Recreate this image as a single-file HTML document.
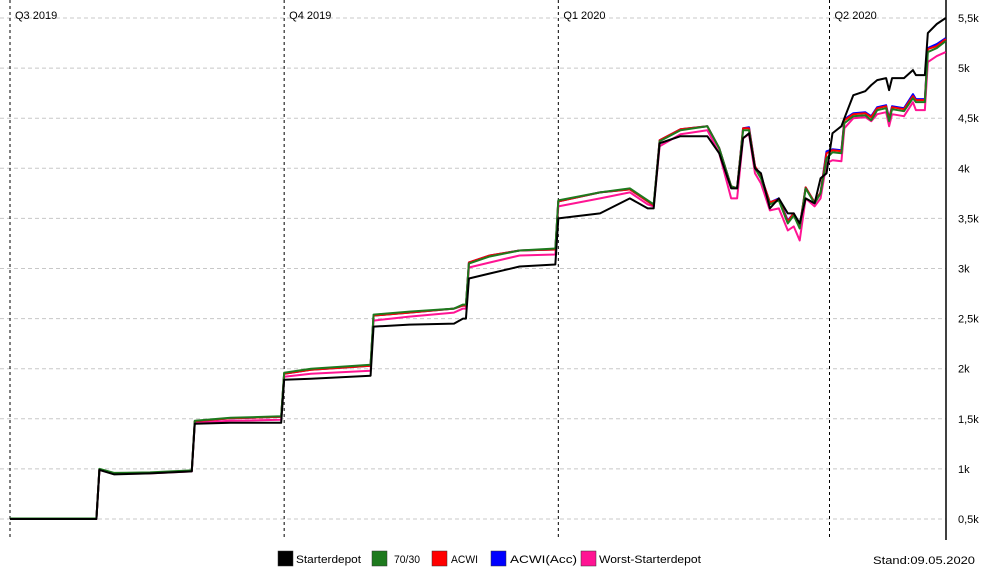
<!DOCTYPE html>
<html><head><meta charset="utf-8"><style>
body{margin:0;background:#fff;width:983px;height:571px;overflow:hidden;font-family:"Liberation Sans",sans-serif}
svg text{font-family:"Liberation Sans",sans-serif;font-size:11px;fill:#000}
</style></head><body>
<svg id="chart" width="983" height="571" xmlns="http://www.w3.org/2000/svg"></svg>
<script>
const days=[0,29,30,35,47,61,62,74,91,92,101,121,122,134,149,152,153,154,161,171,183,184,198,208,214,216,218,225,234,238,242,244,246,248,250,252,255,258,261,263,265,267,270,272,274,276,279,280,283,287,289,291,294,295,296,300,303,304,307,308,311,314];
const starterdepot=[500,500,990,945,955,975,1450,1460,1460,1890,1900,1930,2420,2440,2450,2500,2500,2900,2950,3020,3040,3500,3550,3700,3600,3600,4250,4320,4320,4150,3800,3800,4300,4350,4000,3950,3600,3700,3550,3550,3450,3700,3650,3900,3950,4350,4420,4500,4730,4770,4830,4880,4900,4780,4900,4900,4980,4930,4930,5350,5440,5500];
const s7030=[505,505,1000,960,965,985,1480,1510,1525,1960,2000,2040,2540,2570,2600,2640,2640,3050,3120,3180,3200,3680,3760,3800,3680,3640,4270,4380,4420,4200,3820,3800,4380,4380,4000,3900,3640,3680,3450,3530,3400,3800,3650,3750,4100,4160,4150,4450,4520,4530,4480,4580,4600,4470,4590,4570,4700,4660,4660,5160,5200,5270];
const acwi=[503,503,995,955,960,980,1475,1505,1520,1950,1990,2030,2530,2560,2600,2630,2630,3060,3130,3180,3190,3670,3760,3790,3670,3630,4280,4390,4420,4200,3820,3800,4400,4400,4020,3920,3660,3690,3470,3550,3420,3810,3660,3760,4150,4180,4170,4480,4540,4550,4510,4600,4620,4490,4610,4590,4720,4680,4680,5190,5220,5290];
const acwiAcc=[503,503,995,955,960,980,1475,1505,1520,1950,1990,2030,2530,2560,2600,2630,2630,3060,3130,3180,3190,3670,3760,3790,3670,3630,4280,4390,4420,4200,3820,3800,4400,4410,4020,3920,3660,3700,3480,3550,3420,3810,3660,3760,4170,4190,4180,4490,4550,4560,4520,4610,4630,4500,4620,4600,4740,4690,4690,5200,5240,5300];
const worst=[500,500,990,950,955,975,1460,1480,1490,1920,1950,1980,2480,2520,2560,2600,2600,3010,3060,3130,3140,3620,3700,3760,3640,3620,4220,4340,4380,4150,3700,3700,4300,4340,3950,3850,3580,3600,3380,3420,3280,3700,3620,3700,4050,4080,4070,4400,4500,4510,4470,4540,4560,4420,4540,4520,4660,4580,4580,5060,5120,5160];
const yTicks=[500,1000,1500,2000,2500,3000,3500,4000,4500,5000,5500];
const yLabels=["0,5k","1k","1,5k","2k","2,5k","3k","3,5k","4k","4,5k","5k","5,5k"];
const quarterDays=[0,92,184,275];
const quarterLabels=["Q3 2019","Q4 2019","Q1 2020","Q2 2020"];
const X=d=>10+d*2.98;
const Y=v=>519-(v-500)*0.1002;
const svg=document.getElementById('chart');
const NS="http://www.w3.org/2000/svg";
function mk(t,a){const e=document.createElementNS(NS,t);for(const k in a)e.setAttribute(k,a[k]);svg.appendChild(e);return e;}
yTicks.forEach((v,i)=>{
 const g=mk('line',{x1:0,x2:946,y1:Y(v),y2:Y(v),stroke:'#c8c8c8','stroke-dasharray':'4,3'});
 
 
 const t=mk('text',{x:958,y:Y(v)+4});t.textContent=yLabels[i];
 
 
});
quarterDays.forEach((d,i)=>{
 const l=mk('line',{x1:X(d),x2:X(d),y1:0,y2:540,stroke:'#000','stroke-dasharray':'3,3'});
 
 
 const t=mk('text',{x:X(d)+5,y:19});t.textContent=quarterLabels[i];
 
 
});
const ax=mk('line',{x1:946,x2:946,y1:0,y2:540,stroke:'#000','stroke-width':1.5});


const series=[[worst,'#ff1493','series-worst-starterdepot'],[acwiAcc,'#0000ff','series-acwi-acc'],[acwi,'#ff0000','series-acwi'],[s7030,'#1e7a1e','series-70-30'],[starterdepot,'#000','series-starterdepot']];
series.forEach(([vals,c,n])=>{
 const p=mk('polyline',{points:days.map((d,i)=>X(d)+','+Y(vals[i])).join(' '),fill:'none',stroke:c,'stroke-width':2,'stroke-linejoin':'round'});
 
 
});
const leg=[['#000','Starterdepot',278,296,65],['#1e7a1e','70/30',372,394,26],['#ff0000','ACWI',432,451,27],['#0000ff','ACWI(Acc)',491,510,67],['#ff1493','Worst-Starterdepot',581,599,102]];
leg.forEach(([c,t,x,tx0,w])=>{
 const r=mk('rect',{x:x,y:551,width:15,height:15,fill:c,stroke:'#333','stroke-width':0.5});
 
 
 const tx=mk('text',{x:tx0,y:563,'font-size':12,textLength:w,lengthAdjust:'spacingAndGlyphs'});tx.textContent=t;
 
 
});
const st=mk('text',{x:873,y:564,'font-size':12,textLength:102,lengthAdjust:'spacingAndGlyphs'});st.textContent='Stand:09.05.2020';


</script>
</body></html>
